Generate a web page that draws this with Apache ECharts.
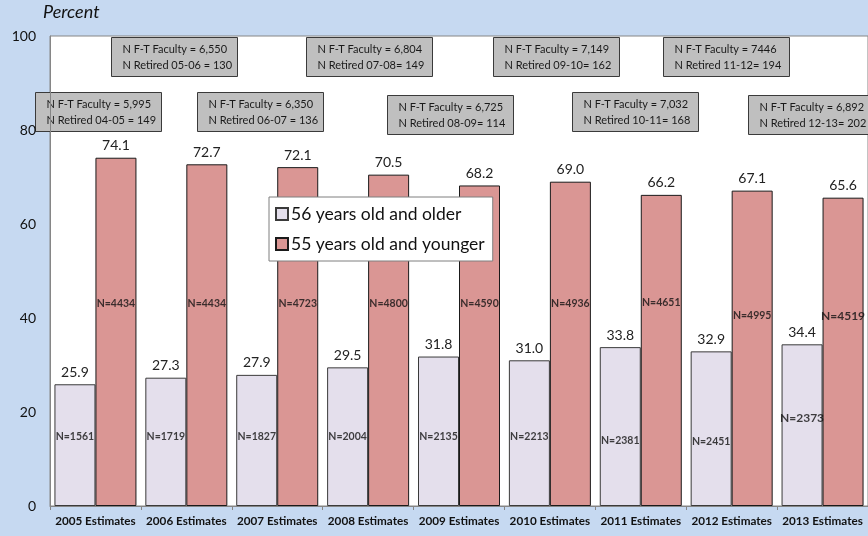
<!DOCTYPE html>
<html>
<head>
<meta charset="utf-8">
<script src="https://cdn.jsdelivr.net/npm/echarts@6/dist/echarts.min.js"></script>
<style>
  html, body { margin: 0; padding: 0; background: #c6d9f1; }
  #chart { width: 868px; height: 536px; }
</style>
</head>
<body>
<div id="chart"></div>
<script>
// Estimates by year
const categories = ['2005 Estimates', '2006 Estimates', '2007 Estimates', '2008 Estimates',
  '2009 Estimates', '2010 Estimates', '2011 Estimates', '2012 Estimates', '2013 Estimates'];

// Percent of full-time faculty by age group
const olderPct = [25.9, 27.3, 27.9, 29.5, 31.8, 31.0, 33.8, 32.9, 34.4];
const youngerPct = [74.1, 72.7, 72.1, 70.5, 68.2, 69.0, 66.2, 67.1, 65.6];

// Head counts per bar
const olderN = [1561, 1719, 1827, 2004, 2135, 2213, 2381, 2451, 2373];
const youngerN = [4434, 4434, 4723, 4800, 4590, 4936, 4651, 4995, 4519];

// Faculty totals and retirements shown in the callout boxes
const facultyTotals = ['5,995', '6,550', '6,350', '6,804', '6,725', '7,149', '7,032', '7446', '6,892'];
const retiredLines = ['N Retired 04-05 = 149', 'N Retired 05-06 = 130', 'N Retired 06-07 = 136',
  'N Retired 07-08= 149', 'N Retired 08-09= 114', 'N Retired 09-10= 162',
  'N Retired 10-11= 168', 'N Retired 11-12= 194', 'N Retired 12-13= 202'];

const seriesNames = ['56 years old and older', '55 years old and younger'];
const yTicks = [0, 20, 40, 60, 80, 100];

// Height (in axis units) at which each head-count label sits
const olderNLabelAt = [14.7, 14.7, 14.7, 14.7, 14.7, 14.7, 14.0, 13.6, 18.7];
const youngerNLabelAt = [43.0, 43.0, 43.0, 43.0, 43.0, 43.0, 43.2, 40.6, 40.4];

// Callout box placement (left, top) in pixels
const boxPos = [[35, 92], [111, 37], [197, 92], [306, 37], [387, 95],
  [493, 37], [572, 92], [663, 37], [748, 95]];

const FONT = 'Lato, "Open Sans", sans-serif';
const OLDER = '#e4dfec';
const YOUNGER = '#da9694';

const chart = echarts.init(document.getElementById('chart'), null, { renderer: 'canvas' });

const graphics = [
  {
    type: 'text', left: 43, top: 3,
    style: { text: 'Percent', fontStyle: 'italic', fontSize: 18, fontFamily: FONT, fill: '#111' }
  }
];
boxPos.forEach((p, i) => {
  graphics.push({
    type: 'group', left: p[0], top: p[1], z: 100,
    children: [
      { type: 'rect', shape: { x: 0, y: 0, width: 126, height: 39 },
        style: { fill: '#bfbfbf', stroke: '#3a3a3a', lineWidth: 1 } },
      { type: 'text', x: 11, y: 4,
        style: { text: 'N F-T Faculty = ' + facultyTotals[i] + '\n' + retiredLines[i],
          fontSize: 11, fontFamily: FONT, fill: '#1a1a1a', lineHeight: 16 } }
    ]
  });
});

const nLabelStyle = {
  show: true, position: 'inside', fontFamily: FONT, fontSize: 10.5,
  fontWeight: 'bold', color: '#111'
};

chart.setOption({
  backgroundColor: '#c6d9f1',
  animation: false,
  textStyle: { fontFamily: FONT },
  grid: {
    left: 50, top: 36, width: 819, bottom: 30,
    show: true, backgroundColor: '#ffffff', borderColor: '#868686', borderWidth: 1
  },
  legend: {
    orient: 'vertical', left: 269, top: 197,
    data: seriesNames,
    backgroundColor: '#ffffff', borderColor: '#7f7f7f', borderWidth: 1,
    padding: [8, 8, 8, 6],
    itemWidth: 12, itemHeight: 12, itemGap: 12,
    icon: 'rect',
    textStyle: { fontFamily: FONT, fontSize: 17.5, color: '#111', padding: [0, 0, 0, -2] },
    z: 50
  },
  xAxis: {
    type: 'category', data: categories,
    axisLine: { lineStyle: { color: '#868686' } },
    axisTick: { show: true, alignWithLabel: false, length: 4, lineStyle: { color: '#868686' } },
    axisLabel: { fontFamily: FONT, fontSize: 11.7, fontWeight: 'bold', color: '#111', margin: 9, interval: 0 }
  },
  yAxis: {
    type: 'value', min: 0, max: 100, interval: 20,
    axisLine: { show: true, lineStyle: { color: '#868686' } },
    axisTick: { show: false },
    splitLine: { show: false },
    axisLabel: {
      fontFamily: FONT, fontSize: 14, color: '#111', margin: 14,
      formatter: v => (yTicks.indexOf(v) >= 0 ? String(v) : '')
    }
  },
  series: [
    {
      name: seriesNames[0], type: 'bar', data: olderPct,
      barWidth: 41, barGap: '0%',
      itemStyle: { color: OLDER, borderColor: '#3a3a3a', borderWidth: 1 },
      label: { show: true, position: 'top', distance: 5, fontFamily: FONT, fontSize: 14, color: '#222',
        formatter: p => p.value.toFixed(1) }
    },
    {
      name: seriesNames[1], type: 'bar', data: youngerPct,
      barWidth: 41, barGap: '0%',
      itemStyle: { color: YOUNGER, borderColor: '#1a1a1a', borderWidth: 1 },
      label: { show: true, position: 'top', distance: 5, fontFamily: FONT, fontSize: 14, color: '#222',
        formatter: p => p.value.toFixed(1) }
    },
    {
      name: 'olderN', type: 'scatter', symbolSize: 0, silent: true, z: 10,
      data: olderNLabelAt.map((y, i) => ({
        value: [i, y], n: olderN[i],
        label: i === 8 ? { fontSize: 12 } : undefined
      })),
      label: Object.assign({}, nLabelStyle, { offset: [-20.5, 0],
        formatter: p => 'N=' + p.data.n })
    },
    {
      name: 'youngerN', type: 'scatter', symbolSize: 0, silent: true, z: 10,
      data: youngerNLabelAt.map((y, i) => ({
        value: [i, y], n: youngerN[i],
        label: i === 8 ? { fontSize: 12 } : undefined
      })),
      label: Object.assign({}, nLabelStyle, { offset: [20.5, 0],
        formatter: p => 'N=' + p.data.n })
    }
  ],
  graphic: graphics
});
</script>
</body>
</html>
